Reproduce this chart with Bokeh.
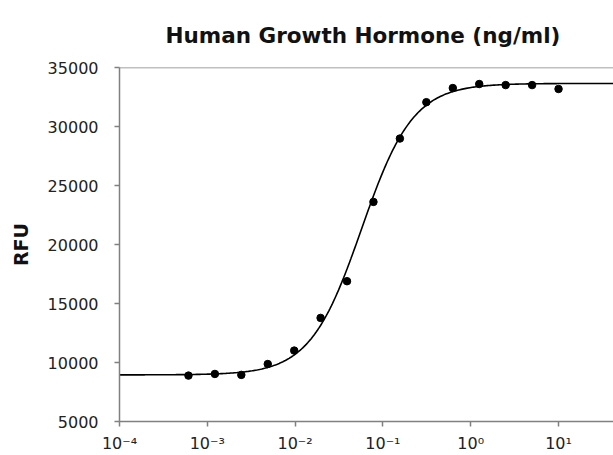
import numpy as np
from bokeh.plotting import figure
from bokeh.models import FixedTicker, CustomJSTickFormatter, Span, Range1d
from bokeh.embed import file_html
from bokeh.resources import INLINE

# ---- data ----
conc_ng_ml = [0.00061, 0.00122, 0.00244, 0.00488, 0.00977, 0.0195, 0.039, 0.078,
              0.156, 0.3125, 0.625, 1.25, 2.5, 5.0, 10.0]
rfu = [8890, 9030, 8950, 9870, 11010, 13780, 16890, 23610,
       28980, 32060, 33260, 33600, 33510, 33510, 33180]

# 4-parameter logistic fit parameters (estimated from the drawn curve)
fit_bottom = 8950
fit_top = 33650
fit_ec50 = 0.057
fit_hill = 1.48

x_tick_vals = [1e-4, 1e-3, 1e-2, 1e-1, 1e0, 1e1]
x_tick_labels = ["10⁻⁴", "10⁻³", "10⁻²", "10⁻¹", "10⁰", "10¹"]
y_tick_vals = [5000, 10000, 15000, 20000, 25000, 30000, 35000]
y_min, y_max = 5000, 35000

title_text = "Human Growth Hormone (ng/ml)"
y_label = "RFU"

# ---- figure ----
x_start, x_end = 1e-4, 10 ** 1.626
p = figure(width=613, height=455, x_axis_type="log",
           x_range=Range1d(x_start, x_end), y_range=Range1d(y_min, y_max),
           output_backend="svg", toolbar_location=None,
           min_border_left=119, min_border_right=0, min_border_top=65,
           min_border_bottom=34)
p.background_fill_color = "white"
p.border_fill_color = "white"
p.outline_line_color = None
p.grid.visible = False

FONT = "DejaVu Sans"
AXIS_COLOR = "#808080"

p.title.text = title_text
p.title.text_font = FONT
p.title.text_font_size = "21.5px"
p.title.text_font_style = "bold"
p.title.text_color = "#111111"
p.title.align = "left"
p.title.offset = 46
p.title.standoff = 40

xa = p.xaxis[0]
xa.ticker = FixedTicker(ticks=x_tick_vals)
xa.formatter = CustomJSTickFormatter(
    args=dict(vals=x_tick_vals, labs=x_tick_labels),
    code="""
    for (let i = 0; i < vals.length; i++) {
        if (Math.abs(Math.log10(vals[i]) - Math.log10(tick)) < 1e-6) { return labs[i]; }
    }
    return '';
    """)
ya = p.yaxis[0]
ya.ticker = FixedTicker(ticks=y_tick_vals)
ya.formatter.use_scientific = False
ya.axis_label = y_label
ya.axis_label_text_font = FONT
ya.axis_label_text_font_size = "19px"
ya.axis_label_text_font_style = "bold"
ya.axis_label_text_color = "#111111"
ya.axis_label_standoff = 13

for ax in (xa, ya):
    ax.axis_line_color = AXIS_COLOR
    ax.axis_line_width = 1.5
    ax.major_tick_line_color = AXIS_COLOR
    ax.major_tick_line_width = 1.5
    ax.major_tick_out = 5
    ax.major_tick_in = 0
    ax.minor_tick_line_color = None
    ax.major_label_text_font = FONT
    ax.major_label_text_font_size = "16px"
    ax.major_label_text_color = "#222222"
ya.major_label_standoff = 16
xa.major_label_standoff = 7

# top frame line
p.add_layout(Span(location=y_max, dimension="width", line_color=AXIS_COLOR,
                  line_width=1.5))

# fitted curve
xs = np.logspace(np.log10(x_start), np.log10(x_end), 400)
ys = fit_bottom + (fit_top - fit_bottom) / (1 + (fit_ec50 / xs) ** fit_hill)
p.line(xs, ys, line_color="black", line_width=1.6)

# data points
p.scatter(conc_ng_ml, rfu, size=7.5, fill_color="black", line_color="black")

open("out.html", "w").write(file_html(p, INLINE))
